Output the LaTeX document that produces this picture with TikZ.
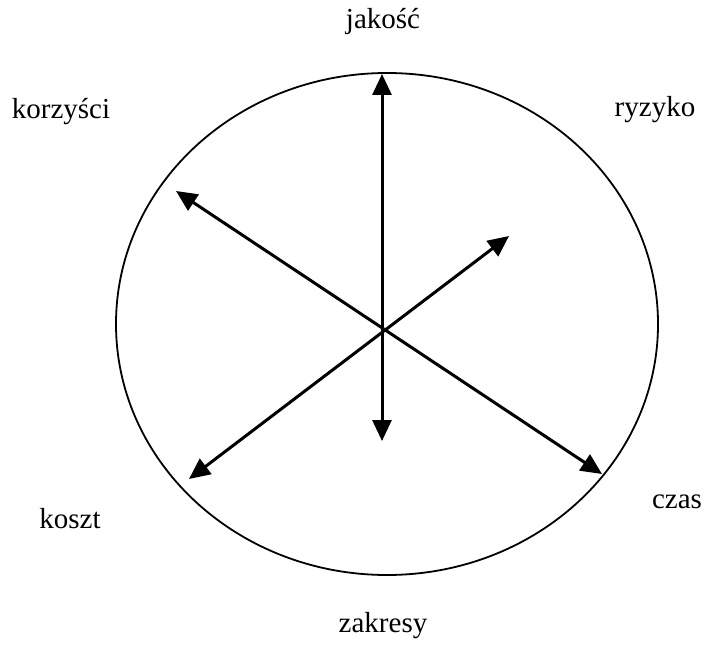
\documentclass[tikz,border=0pt]{standalone}
\usepackage{fontspec}
\setmainfont{Liberation Serif}
\usetikzlibrary{arrows.meta}
\begin{document}
\begin{tikzpicture}[x=1pt,y=-1pt,
  lbl/.style={font=\fontsize{29}{32}\selectfont, inner sep=0pt},
  axis/.style={line width=3pt, {Triangle[length=21pt,width=19pt]}-{Triangle[length=21pt,width=19pt]}}]
\useasboundingbox (0,0) rectangle (712,652);
\draw[line width=1.8pt] (387,324) ellipse [x radius=271, y radius=251];
\coordinate (up) at (382,74);
\coordinate (down) at (382,441);
\coordinate (ul) at (176,191);
\coordinate (lr) at (602,474);
\coordinate (ll) at (189,479);
\coordinate (ur) at (509,236);
\draw[axis] (down) -- (up);
\draw[axis] (ul) -- (lr);
\draw[axis] (ll) -- (ur);
\node[lbl] (jakosc) at (383,22) {jakość};
\node[lbl] (korzysci) at (61,112) {korzyści};
\node[lbl] (ryzyko) at (655,110) {ryzyko};
\node[lbl] (koszt) at (70,519) {koszt};
\node[lbl] (czas) at (677,502) {czas};
\node[lbl] (zakresy) at (383,626) {zakresy};
\end{tikzpicture}
\end{document}
